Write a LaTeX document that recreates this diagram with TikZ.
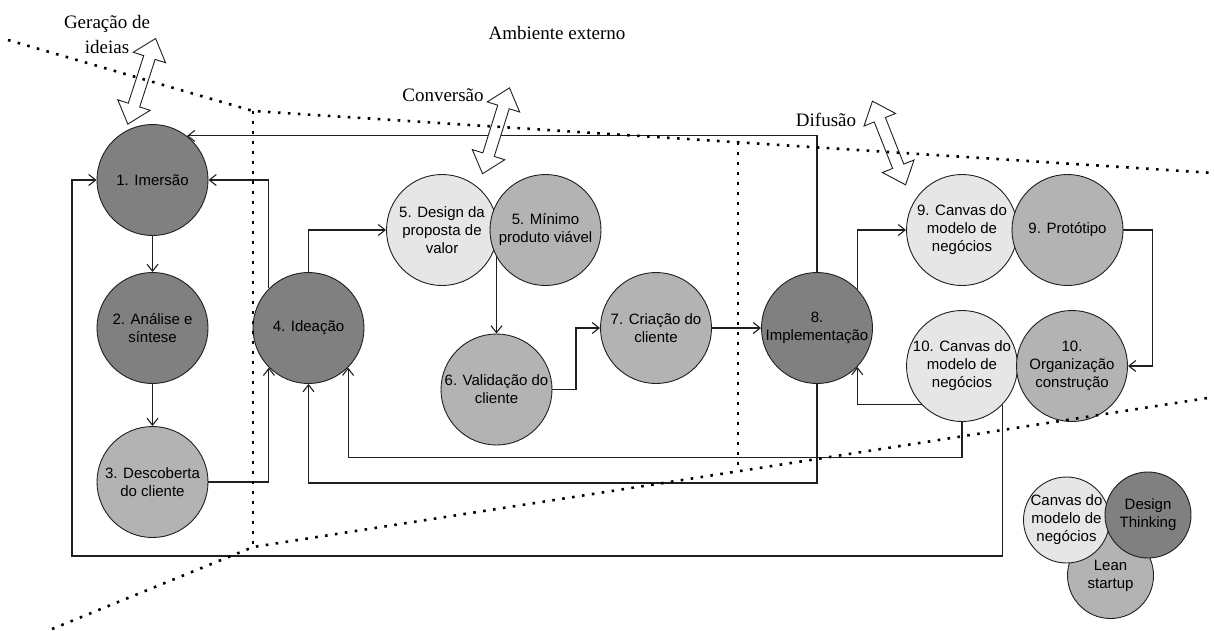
\documentclass[tikz,border=0pt]{standalone}
\usepackage{fontspec}
\setmainfont{Liberation Sans}
\newfontfamily\labelserif{Liberation Serif}
\usetikzlibrary{arrows.meta,backgrounds}
\definecolor{darkfill}{HTML}{808080}
\definecolor{midfill}{HTML}{B3B3B3}
\definecolor{lightfill}{HTML}{E6E6E6}
\definecolor{edge}{HTML}{1F1F1F}

\begin{document}
\begin{tikzpicture}[x=1pt,y=-1pt,
  stage/.style={circle, draw=edge, line width=0.9pt, minimum size=111pt,
    inner sep=-10pt, align=center, font=\fontsize{15}{18}\selectfont, text=black},
  key/.style={stage, minimum size=86pt},
  dark/.style={fill=darkfill},
  mid/.style={fill=midfill},
  light/.style={fill=lightfill},
  flow/.style={draw=edge, line width=1.1pt, -{Straight Barb[length=7pt,width=11pt]}},
  border/.style={line width=2.6pt, dash pattern=on 2.6pt off 7.4pt},
  phase/.style={font=\labelserif\fontsize{19}{25}\selectfont, align=center, inner sep=0pt},
  dblarrow/.pic={
    \draw[line width=0.9pt, draw=edge, fill=white, line join=miter]
      (-45,0) -- (-25,17) -- (-25,6) -- (25,6) -- (25,17) -- (45,0)
      -- (25,-17) -- (25,-6) -- (-25,-6) -- (-25,-17) -- cycle;
  }
]
\useasboundingbox (0,0) rectangle (1214,630);

% process stages
\node[stage,dark]  (c1)  at (152.5,180) {1. Imersão};
\node[stage,dark]  (c2)  at (152.5,328) {2. Análise e\\síntese};
\node[stage,mid]   (c3)  at (152.5,482) {3. Descoberta\\do cliente};
\node[stage,dark]  (c4)  at (308.5,328) {4. Ideação};
\node[stage,light] (c5a) at (442,230)   {5. Design da\\proposta de\\valor};
\node[stage,mid]   (c5b) at (545.5,230) {5. Mínimo\\produto viável};
\node[stage,mid]   (c6)  at (496.5,389.5) {6. Validação do\\cliente};
\node[stage,mid]   (c7)  at (656,328)   {7. Criação do\\cliente};
\node[stage,dark]  (c8)  at (817,328)   {8.\\Implementação};
\node[stage,light] (c9a) at (962,230)   {9. Canvas do\\modelo de\\negócios};
\node[stage,mid]   (c9b) at (1067.5,230) {9. Protótipo};
\node[stage,light] (c10a) at (962,366)  {10. Canvas do\\modelo de\\negócios};
\node[stage,mid]   (c10b) at (1072,366) {10.\\Organização\\construção};

% legend
\node[key,mid]   (kl) at (1110.5,575.5) {Lean\\startup};
\node[key,light] (kc) at (1066.5,520)   {Canvas do\\modelo de\\negócios};
\node[key,dark]  (kd) at (1148,515)     {Design\\Thinking};

\coordinate (outer) at (72,556);

% connectors
\begin{scope}[on background layer]
  \draw[flow] (c1.south) -- (c2.north);
  \draw[flow] (c2.south) -- (c3.north);
  \draw[flow] (c3.east) -| (c4.225);
  \draw[flow] (c4.135) |- (c1.east);
  \draw[flow] (c4.north) |- (c5a.west);
  \draw[flow] (c6.north |- c5a.center) -- (c6.north);
  \draw[flow] (c6.east) -- ++(23.5,0) |- (c7.west);
  \draw[flow] (c7.east) -- (c8.west);
  \draw[flow] (c8.north) |- (c1.52);
  \draw[flow] (c8.44) |- (c9a.west);
  \draw[flow] (c8.south) -- ++(0,99) -| (c4.south);
  \draw[flow] (c9b.east) -- ++(29,0) |- (c10b.east);
  \draw[flow] (c10a.224) -| (c8.-44);
  \draw[flow] (c10a.south) -- ++(0,35.5) -| (c4.-45);
  \draw[flow] (c10a.-44) |- (outer) |- (c1.west);
\end{scope}

% exchange with the external environment
\pic[rotate=72]    (genarrow) at (141.7,81.3) {dblarrow};
\pic[rotate=72.6]  (convarrow) at (496,130.8) {dblarrow};
\pic[rotate=111.6] (difarrow) at (889,143) {dblarrow};

\node[phase] (gen)  at (107,34)  {Geração de\\ideias};
\node[phase] (conv) at (443,95)  {Conversão};
\node[phase] (dif)  at (826,120) {Difusão};
\node[phase] (amb)  at (557,33)  {Ambiente externo};

% dotted boundaries of the three zones
\draw[border] (8,40) -- (253,111) -- (1214,173);
\draw[border] (52,629) -- (253,547) -- (1214,397);
\draw[border] (253,111) -- (253,547);
\draw[border] (738,142) -- (738,471);
\end{tikzpicture}
\end{document}
